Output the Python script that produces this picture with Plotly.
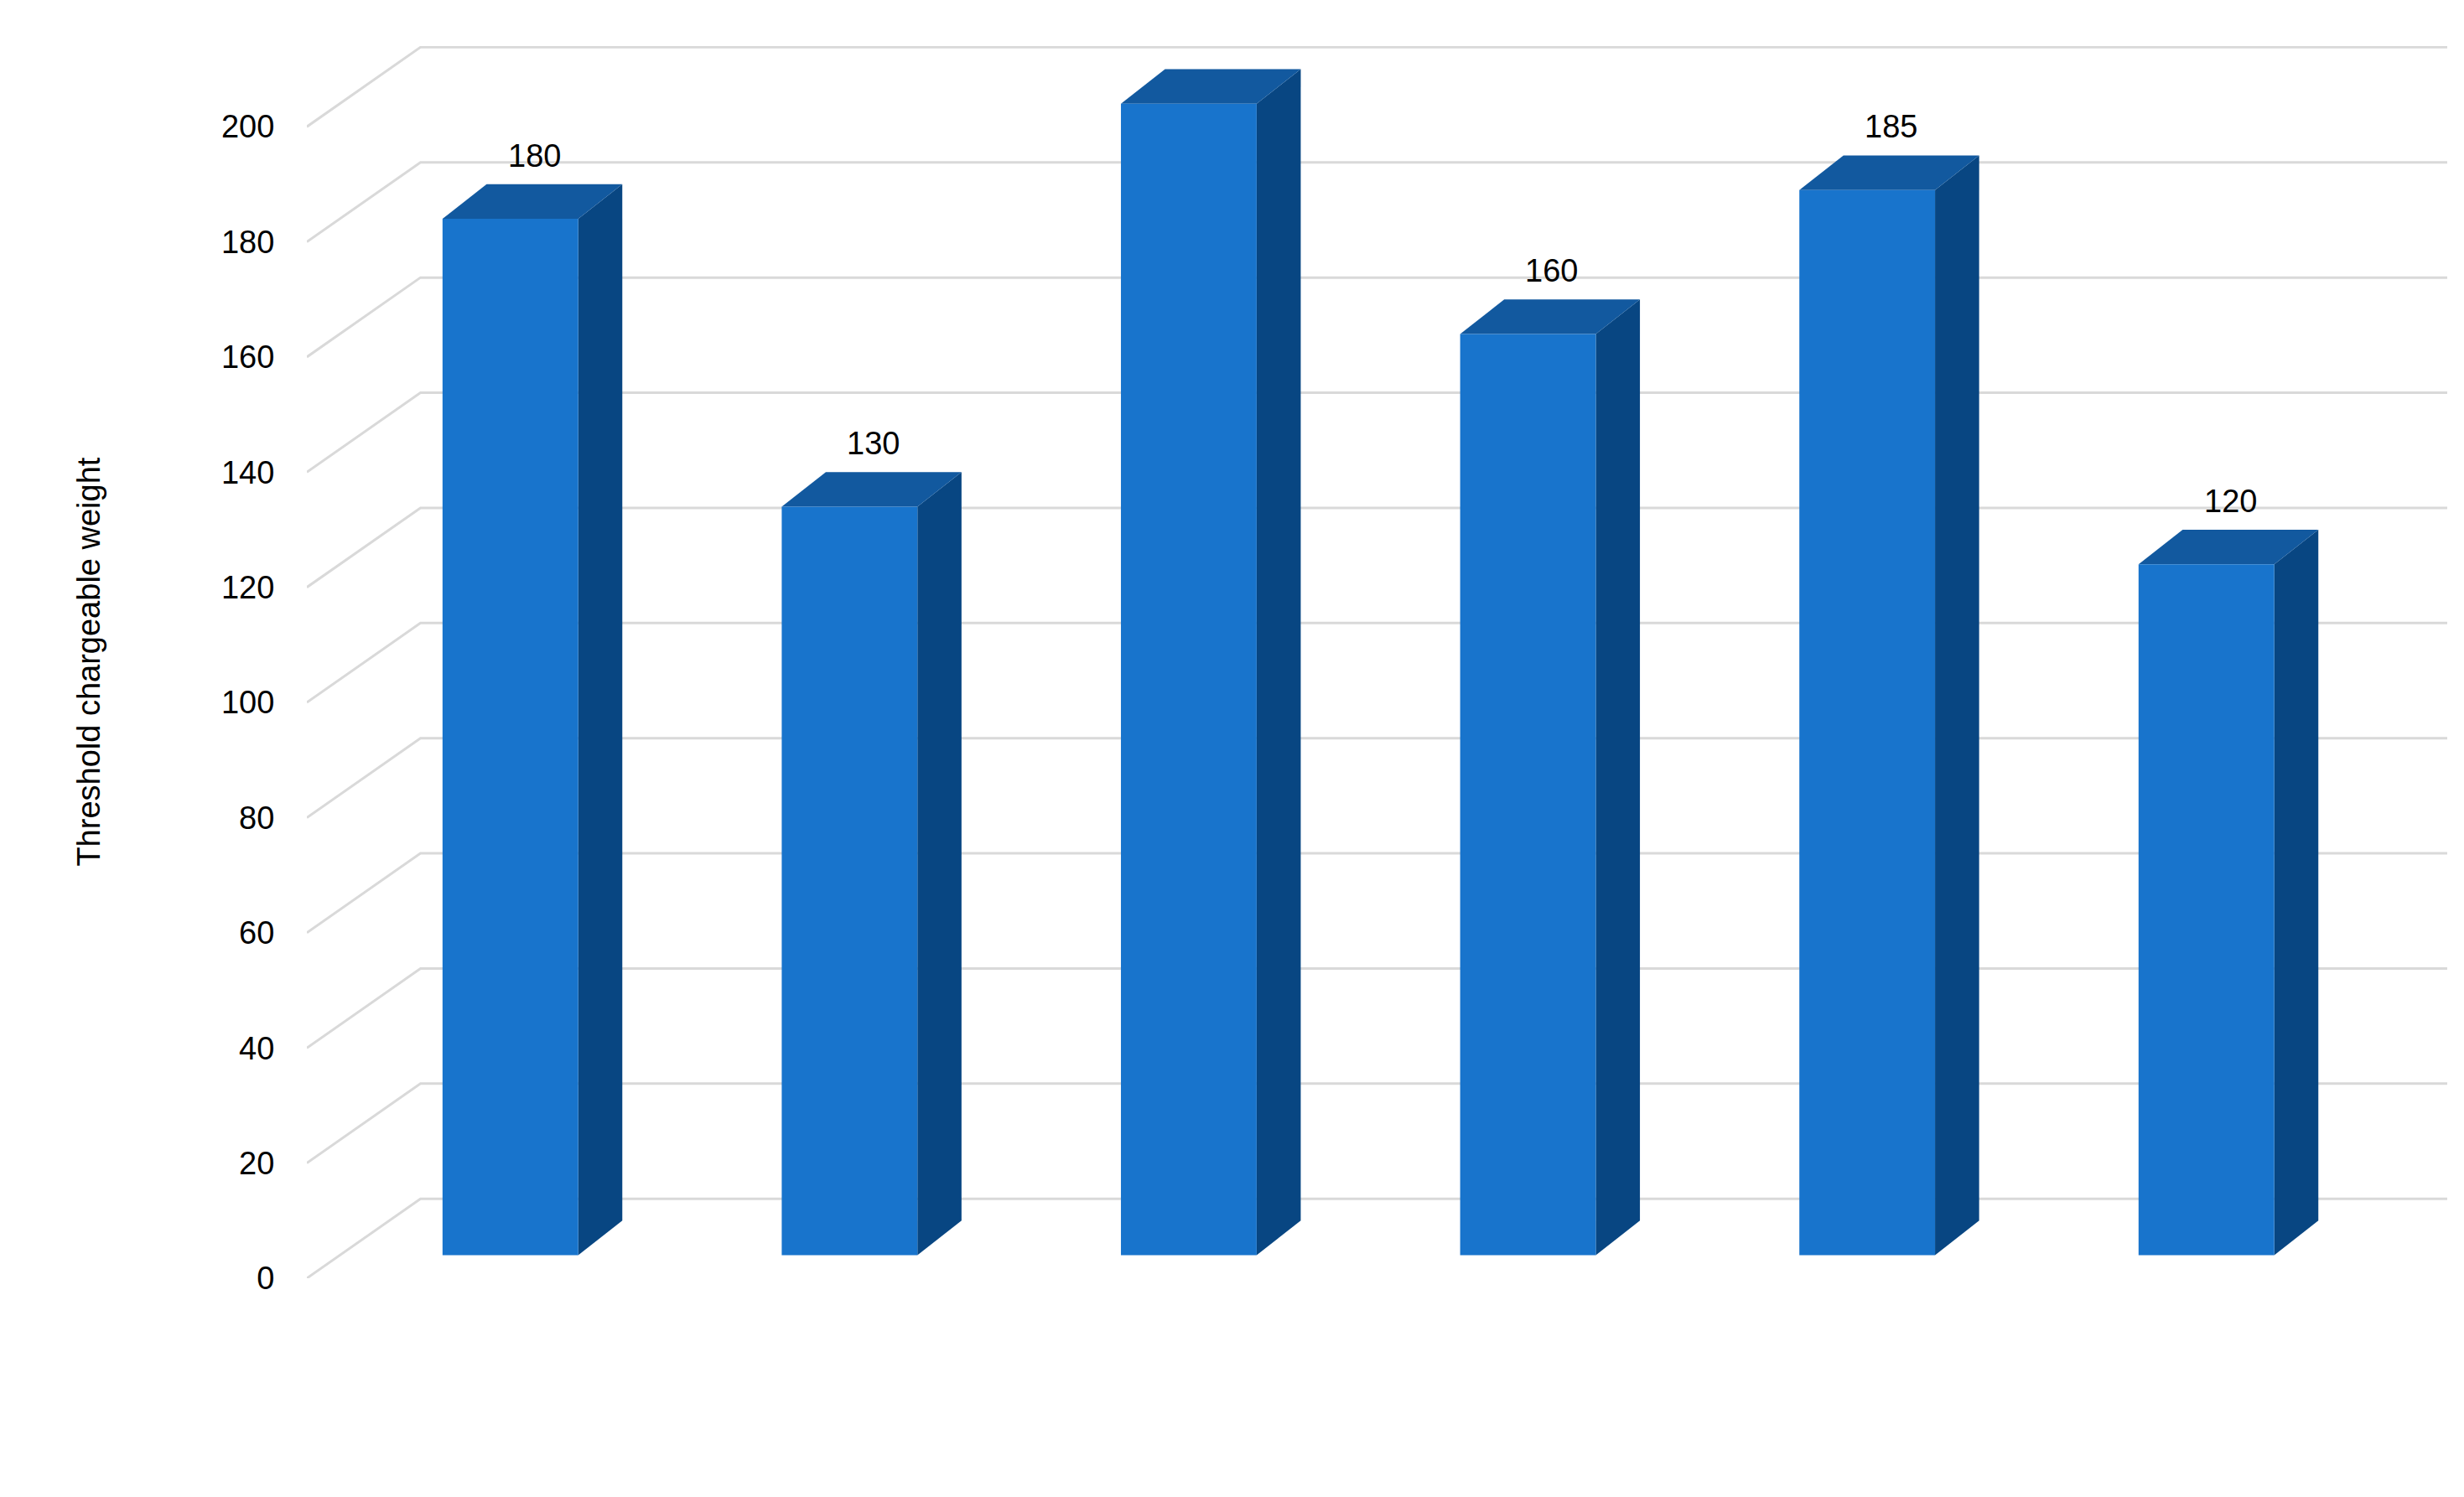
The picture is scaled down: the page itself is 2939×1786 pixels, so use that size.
import plotly.graph_objects as go

countries = ["Austria", "Belgium", "Germany", "France", "Sweden", "USA"]
values = [180, 130, 200, 160, 185, 120]
yticks = list(range(0, 201, 20))

FRONT, TOP, SIDE = "#1874cc", "#12599f", "#084682"
HW = 0.2          # half width of bar (category units)
DX, DY = 0.13, 6  # bar depth offset
B0 = 4            # bar base above front zero
GX0, GX1, GDX, GDY = -0.6, 5.71, 0.335, 13.8

fig = go.Figure()
# gridlines: diagonal + back line
gx, gy = [], []
for t in yticks:
    gx += [GX0, GX0 + GDX, GX1, None]
    gy += [t, t + GDY, t + GDY, None]
fig.add_trace(go.Scatter(x=gx, y=gy, mode="lines", line=dict(color="#d9d9d9", width=3),
                         hoverinfo="skip", showlegend=False))

for i, v in enumerate(values):
    l, r = i - HW, i + HW
    b, t = B0, v + B0
    fig.add_trace(go.Scatter(x=[r, r + DX, r + DX, r, r], y=[b, b + DY, t + DY, t, b],
                             fill="toself", fillcolor=SIDE, mode="lines", line=dict(width=0),
                             showlegend=False, hoverinfo="skip"))
    fig.add_trace(go.Scatter(x=[l, r, r + DX, l + DX, l], y=[t, t, t + DY, t + DY, t],
                             fill="toself", fillcolor=TOP, mode="lines", line=dict(width=0),
                             showlegend=False, hoverinfo="skip"))
    fig.add_trace(go.Scatter(x=[l, r, r, l, l], y=[b, b, t, t, b],
                             fill="toself", fillcolor=FRONT, mode="lines", line=dict(width=0),
                             showlegend=False, hoverinfo="skip"))
    fig.add_annotation(x=i + 0.07, y=v + 15, text=str(v), showarrow=False,
                       font=dict(size=38, color="black", family="Liberation Sans"))
    fig.add_annotation(x=i - 0.1, y=-12.5, text=countries[i], showarrow=False,
                       font=dict(size=38, color="black", family="Liberation Sans"))

fig.add_annotation(x=2.25, y=-33.5, text="Country", showarrow=False,
                   font=dict(size=38, color="black", family="Liberation Sans"))
fig.add_annotation(xref="paper", x=-0.111, y=107, text="Threshold chargeable weight",
                   textangle=-90, showarrow=False,
                   font=dict(size=38, color="black", family="Liberation Sans"))

fig.update_layout(
    width=2939, height=1786, paper_bgcolor="white", plot_bgcolor="white",
    margin=dict(l=358, r=28, t=47, b=269),
    font=dict(family="Liberation Sans", size=38, color="black"),
    xaxis=dict(range=[GX0, GX1], showgrid=False, zeroline=False, showticklabels=False,
               showline=False),
    yaxis=dict(range=[0, 214], showgrid=False, zeroline=False, tickvals=yticks,
               ticktext=[str(t) for t in yticks], ticks="outside", ticklen=30,
               tickcolor="rgba(0,0,0,0)", tickfont=dict(size=38, color="black")),
)
fig.write_html("out.html")
